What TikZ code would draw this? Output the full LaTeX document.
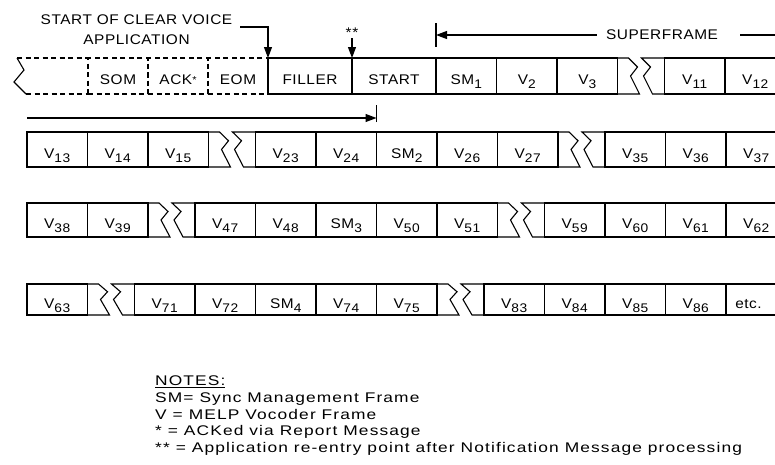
\documentclass[tikz,border=0pt]{standalone}
\usepackage{fontspec}
\setmainfont{Liberation Sans}[FakeStretch=1.1,LetterSpace=4]
\newfontfamily\notefont{Liberation Sans}[FakeStretch=1.24,LetterSpace=8]
\usetikzlibrary{arrows.meta, positioning}

\newcommand{\lowidx}[1]{\raisebox{-4pt}{\fontsize{12.5}{12.5}\selectfont #1}}
\newcommand{\vf}[1]{V\lowidx{#1}}
\newcommand{\smf}[1]{SM\lowidx{#1}}
% torn edge between two cells of a row
\newcommand{\zbreak}[3]{%
	\draw[frame] (#1.north east) -- ++(11,0) -- ++(9,0.25*#3) -- ++(-7,0.25*#3) -- ++(9,0.5*#3) -- (#1.south east);
	\draw[frame] (#2.north west) -- ++(-23,0) -- ++(9,0.25*#3) -- ++(-7,0.25*#3) -- ++(9,0.5*#3) -- (#2.south west);
}

\begin{document}
\begin{tikzpicture}[x=1pt,y=-1pt,font=\fontsize{14}{19.5}\selectfont]

	\tikzset{
		frame/.style={line width=1.1pt},
		tip/.style={frame, -{Triangle[length=11pt,width=8pt]}},
		cell/.style={
				draw, frame, rectangle, minimum width=60.5pt, inner sep=0pt, outer sep=0pt, text height=17pt, text depth=0pt
			},
		dashcell/.style={cell, dash pattern=on 5pt off 3.5pt},
		r1/.style={minimum height=36pt},
		r2/.style={minimum height=35pt},
		r3/.style={minimum height=34pt},
		r4/.style={minimum height=31pt},
	}
	\clip (0,0) rectangle (775,464);

	% row 1
	\node[cell, r1, minimum width=84pt, anchor=north west] (filler) at (268,58) {FILLER};
	\node[cell, r1, minimum width=84pt, right=0pt of filler] (start) {START};
	\node[cell, r1, right=0pt of start] (sm1) {\smf{1}};
	\node[cell, r1, right=0pt of sm1] (v2) {\vf{2}};
	\node[cell, r1, right=0pt of v2] (v3) {\vf{3}};
	\node[cell, r1, right=47pt of v3] (v11) {\vf{11}};
	\node[cell, r1, right=0pt of v11] (v12) {\vf{12}};
	\node[dashcell, r1, minimum width=60pt, left=0pt of filler] (eom) {EOM};
	\node[dashcell, r1, minimum width=60pt, left=0pt of eom] (ack) {ACK\raisebox{1pt}{\fontsize{10}{10}\selectfont*}};
	\node[dashcell, r1, minimum width=60pt, left=0pt of ack] (som) {SOM};

	\draw[frame] (som.north west) ++(-71,0) coordinate (zt) -- ++(7,12) -- ++(-10,12) -- ++(12,12) coordinate (zb);
	\draw[frame, dash pattern=on 5pt off 3.5pt] (zt) -- (som.north west);
	\draw[frame, dash pattern=on 5pt off 3.5pt] (zb) -- (som.south west);
	\zbreak{v3}{v11}{36}

	% row 2
	\node[cell, r2, anchor=north west] (v13) at (27,132) {\vf{13}};
	\node[cell, r2, right=0pt of v13] (v14) {\vf{14}};
	\node[cell, r2, right=0pt of v14] (v15) {\vf{15}};
	\node[cell, r2, right=47pt of v15] (v23) {\vf{23}};
	\node[cell, r2, right=0pt of v23] (v24) {\vf{24}};
	\node[cell, r2, right=0pt of v24] (sm2) {\smf{2}};
	\node[cell, r2, right=0pt of sm2] (v26) {\vf{26}};
	\node[cell, r2, right=0pt of v26] (v27) {\vf{27}};
	\node[cell, r2, right=47pt of v27] (v35) {\vf{35}};
	\node[cell, r2, right=0pt of v35] (v36) {\vf{36}};
	\node[cell, r2, right=0pt of v36] (v37) {\vf{37}};
	\zbreak{v15}{v23}{35}
	\zbreak{v27}{v35}{35}

	% row 3
	\node[cell, r3, anchor=north west] (v38) at (27,203) {\vf{38}};
	\node[cell, r3, right=0pt of v38] (v39) {\vf{39}};
	\node[cell, r3, right=47pt of v39] (v47) {\vf{47}};
	\node[cell, r3, right=0pt of v47] (v48) {\vf{48}};
	\node[cell, r3, right=0pt of v48] (sm3) {\smf{3}};
	\node[cell, r3, right=0pt of sm3] (v50) {\vf{50}};
	\node[cell, r3, right=0pt of v50] (v51) {\vf{51}};
	\node[cell, r3, right=47pt of v51] (v59) {\vf{59}};
	\node[cell, r3, right=0pt of v59] (v60) {\vf{60}};
	\node[cell, r3, right=0pt of v60] (v61) {\vf{61}};
	\node[cell, r3, right=0pt of v61] (v62) {\vf{62}};
	\zbreak{v39}{v47}{34}
	\zbreak{v51}{v59}{34}

	% row 4
	\node[cell, r4, anchor=north west] (v63) at (27,284) {\vf{63}};
	\node[cell, r4, right=47pt of v63] (v71) {\vf{71}};
	\node[cell, r4, right=0pt of v71] (v72) {\vf{72}};
	\node[cell, r4, right=0pt of v72] (sm4) {\smf{4}};
	\node[cell, r4, right=0pt of sm4] (v74) {\vf{74}};
	\node[cell, r4, right=0pt of v74] (v75) {\vf{75}};
	\node[cell, r4, right=47pt of v75] (v83) {\vf{83}};
	\node[cell, r4, right=0pt of v83] (v84) {\vf{84}};
	\node[cell, r4, right=0pt of v84] (v85) {\vf{85}};
	\node[cell, r4, right=0pt of v85] (v86) {\vf{86}};
	\node[cell, r4, right=0pt of v86, text width=42pt, align=left] (etc) {etc.};
	\zbreak{v63}{v71}{31}
	\zbreak{v75}{v83}{31}

	% markers above row 1
	\node[inner sep=0pt, align=center] (clv) at (136.5,29.5) {START OF CLEAR VOICE\\APPLICATION};
	\draw[tip] ([xshift=8pt,yshift=2.5pt]clv.east) -| (filler.north west);
	\node[inner sep=0pt, above=20pt of start.north west] (dstar) {**};
	\draw[tip] (dstar.south) -- (start.north west);

	% superframe
	\node[inner sep=0pt] (sf) at (662,35) {SUPERFRAME};
	\draw[tip] ([xshift=-9pt]sf.west) -- (sf.west -| sm1.west);
	\draw[frame] ([yshift=12pt]sf.west -| sm1.west) -- ([yshift=-12pt]sf.west -| sm1.west);
	\draw[frame] ([xshift=22pt]sf.east) -- ++(80,0);
	\draw[tip] ([yshift=14pt]v13.north west) -- ([yshift=14pt]sm2.north west);
	\draw[frame] ([yshift=10pt]sm2.north west) -- ([yshift=27pt]sm2.north west);

	% notes
	\node[inner sep=0pt, anchor=north west, align=left, font=\notefont\fontsize{14}{16.6}\selectfont] (notes) at (155,376) {%
		\underline{NOTES:}\\
		SM= Sync Management Frame\\
		V = MELP Vocoder Frame\\
		* = ACKed via Report Message\\
		** = Application re-entry point after Notification Message processing};

\end{tikzpicture}
\end{document}
